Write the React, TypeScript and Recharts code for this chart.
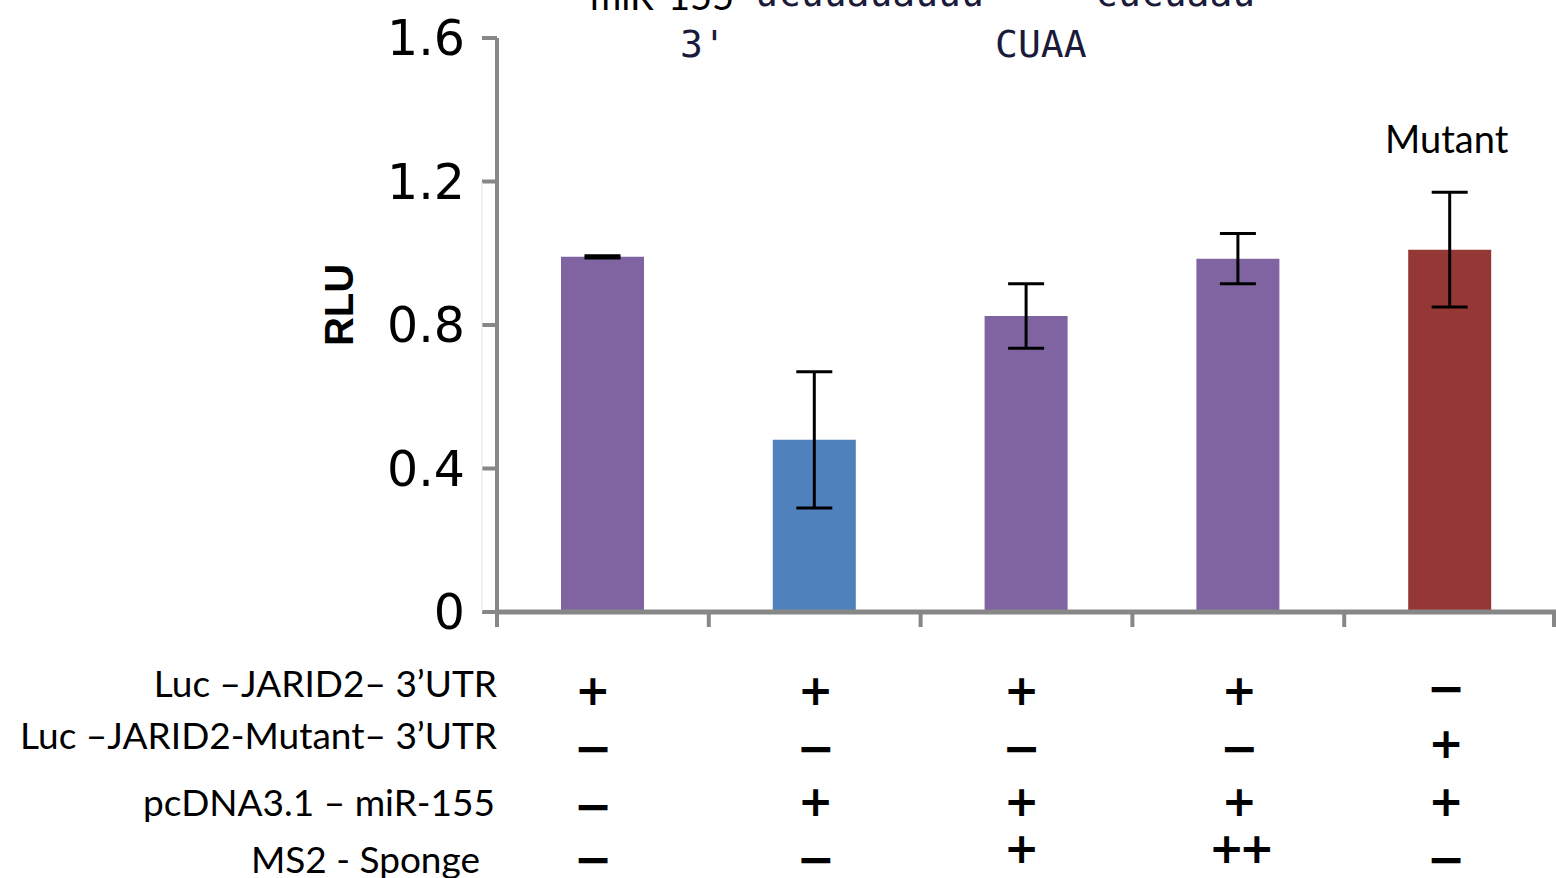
import { Bar, BarChart, Cell, ErrorBar, LabelList, XAxis, YAxis } from "recharts";

const categories = ["WT", "miR-155", "Sponge", "Sponge x2", "Mutant"];
const rluValues = [0.99, 0.48, 0.825, 0.985, 1.01];
const rluErrors = [0.003, 0.19, 0.09, 0.07, 0.16];
const barTags = ["", "", "", "", "Mutant"];
const barColors = ["#8064A2", "#4F81BD", "#8064A2", "#8064A2", "#953735"];
const yTicks = [0, 0.4, 0.8, 1.2, 1.6];

const rowLabels = [
  "Luc \u2013JARID2\u2013 3\u2019UTR",
  "Luc \u2013JARID2-Mutant\u2013 3\u2019UTR",
  "pcDNA3.1 \u2013 miR-155",
  "MS2 - Sponge",
];
const lucWt = ["+", "+", "+", "+", "\u2212"];
const lucMut = ["\u2212", "\u2212", "\u2212", "\u2212", "+"];
const pcDNA = ["\u2212", "+", "+", "+", "+"];
const sponge = ["\u2212", "\u2212", "+", "++", "\u2212"];
const signRows = [lucWt, lucMut, pcDNA, sponge];

const data = categories.map((name, i) => ({
  name,
  rlu: rluValues[i],
  err: rluErrors[i],
  tag: barTags[i],
}));

const AXIS = "#878787";
const LABEL_FONT = "Lato, 'Open Sans', sans-serif";

// row layout below the x axis (offsets from the axis line)
const rowLabelDy = [85, 137, 204, 261];
const rowLabelDx = [0, 0, -2, -17];
const plusDy = [78, 131, 189, 236];
const minusDy = [76, 136, 194, 247];
const colDx = [-10, 1, -5, 1, -4];

function ConditionTick(props: any) {
  const { x, y, payload, index } = props;
  const half = payload && payload.offset ? payload.offset : 105.9;
  const left = x - half;
  return (
    <g>
      <line x1={left} y1={y} x2={left} y2={y + 15} stroke={AXIS} strokeWidth={4} />
      {index === categories.length - 1 && (
        <line x1={x + half - 2} y1={y} x2={x + half - 2} y2={y + 15} stroke={AXIS} strokeWidth={4} />
      )}
      {signRows.map((row, r) => {
        const sign = row[index];
        const isMinus = sign === "\u2212";
        return (
          <text
            key={r}
            x={x + colDx[index]}
            y={y + (isMinus ? minusDy[r] : plusDy[r])}
            textAnchor="middle"
            dominantBaseline="central"
            fontFamily="'DejaVu Sans', sans-serif"
            fontWeight="bold"
            fontSize={isMinus ? 46 : 42}
            letterSpacing={sign === "++" ? -5 : 0}
            fill="#000"
          >
            {sign}
          </text>
        );
      })}
      {index === 0 &&
        rowLabels.map((label, r) => (
          <text
            key={label}
            x={left + rowLabelDx[r]}
            y={y + rowLabelDy[r]}
            textAnchor="end"
            fontFamily={LABEL_FONT}
            fontSize={37}
            fill="#000"
          >
            {label}
          </text>
        ))}
    </g>
  );
}

function TagLabel(props: any) {
  const { x, y, width, value } = props;
  if (!value) return null;
  return (
    <text x={x + width / 2 - 3} y={y - 97} textAnchor="middle" fontFamily={LABEL_FONT} fontSize={38} fill="#000">
      {value}
    </text>
  );
}

export default function App() {
  return (
    <div style={{ position: "absolute", left: 0, top: 0, width: 1556, height: 878, background: "#fff", overflow: "hidden" }}>
      <BarChart width={1556} height={878} data={data} margin={{ top: 38, right: 0, bottom: 0, left: 0 }}>
        <YAxis
          width={497}
          domain={[0, 1.6]}
          ticks={yTicks}
          interval={0}
          axisLine={{ stroke: AXIS, strokeWidth: 4 }}
          tickLine={{ stroke: AXIS, strokeWidth: 4 }}
          tickSize={15}
          tickMargin={17}
          tick={{ fill: "#000", fontSize: 49, fontFamily: "'DejaVu Sans', sans-serif" }}
        />
        <XAxis
          dataKey="name"
          height={266}
          interval={0}
          axisLine={{ stroke: AXIS, strokeWidth: 5 }}
          tickLine={false}
          tickSize={0}
          tickMargin={0}
          tick={<ConditionTick />}
        />
        <Bar dataKey="rlu" barSize={83} isAnimationActive={false}>
          {data.map((_, i) => (
            <Cell key={i} fill={barColors[i]} />
          ))}
          <ErrorBar dataKey="err" width={18} strokeWidth={3} stroke="#000" />
          <LabelList dataKey="tag" content={<TagLabel />} />
        </Bar>
      </BarChart>
      <svg width={1556} height={878} style={{ position: "absolute", left: 0, top: 0, pointerEvents: "none" }}>
        <line x1={482} y1={182} x2={482} y2={612} stroke="#e4e4e4" strokeWidth={1} />
        <text
          x={339}
          y={305}
          transform="rotate(-90 339 305)"
          textAnchor="middle"
          dominantBaseline="central"
          fontFamily="'Liberation Sans', Arial, sans-serif"
          fontWeight="bold"
          fontSize={40}
          fill="#000"
        >
          RLU
        </text>
        <text x={590} y={10} fontFamily={LABEL_FONT} fontSize={38} fill="#000">
          miR-155
        </text>
        <g fontFamily="'DejaVu Sans Mono', monospace" fontSize={38} fill="#1a1a3a">
          <text x={755} y={6}>ucuuauauuu</text>
          <text x={1095} y={6}>cucuaau</text>
          <text x={680} y={57}>3'</text>
          <text x={995} y={57}>CUAA</text>
        </g>
      </svg>
    </div>
  );
}
